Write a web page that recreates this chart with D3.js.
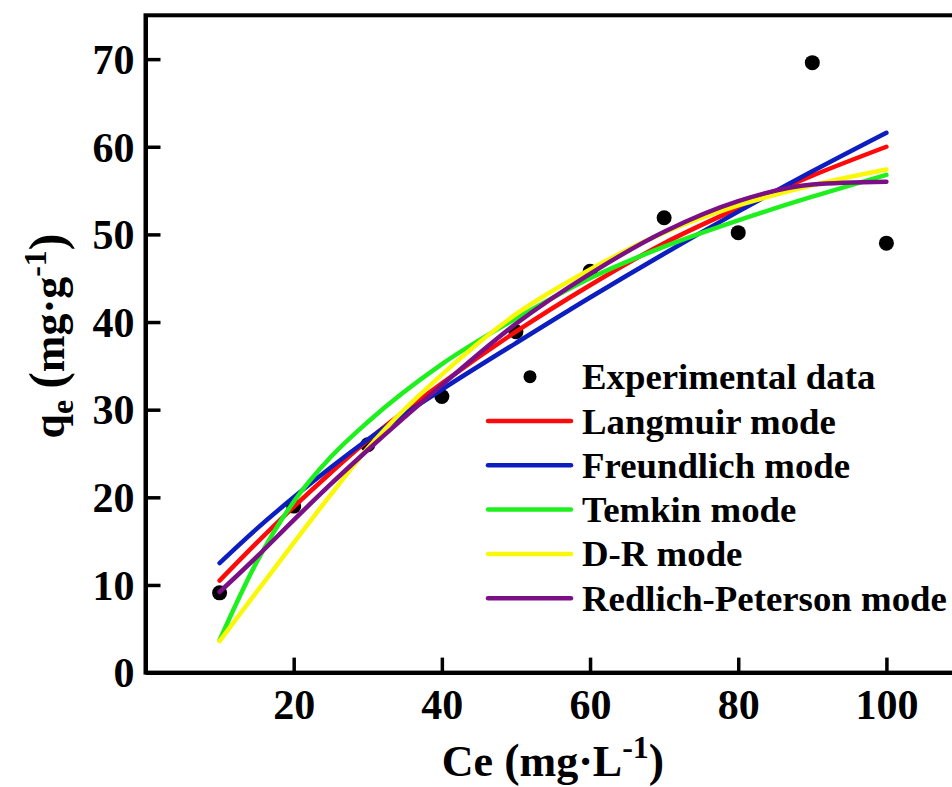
<!DOCTYPE html>
<html>
<head>
<meta charset="utf-8">
<script src="https://cdnjs.cloudflare.com/ajax/libs/d3/7.8.5/d3.min.js"></script>
<style>
  html, body { margin: 0; padding: 0; background: #fff; }
  svg { display: block; }
  text { font-family: "Liberation Serif", "Times New Roman", serif; font-weight: bold; fill: #000; }
</style>
</head>
<body>
<svg id="chart" width="952" height="787"></svg>
<script>
// ---- data ----
const expCe = [10, 20, 30, 40, 50, 60, 70, 80, 90, 100];
const expQe = [9.1, 19.0, 26.0, 31.5, 38.9, 45.8, 51.9, 50.2, 69.6, 49.0];

const fitCe = [10, 15, 20, 25, 30, 40, 50, 60, 70, 80, 90, 100];
const langmuir    = [10.5, 14.8, 18.9, 22.8, 26.5, 33.0, 38.9, 44.2, 49.0, 53.0, 56.7, 60.0];
const freundlich  = [12.5, 16.4, 20.0, 23.4, 26.6, 32.3, 37.6, 42.8, 47.8, 52.6, 57.2, 61.6];
const temkin      = [3.7, 12.6, 19.5, 24.6, 28.6, 35.2, 40.4, 45.0, 48.6, 51.6, 54.3, 56.8];
const dr          = [3.6, 9.2, 14.8, 20.3, 25.6, 34.0, 40.9, 46.0, 50.2, 53.3, 55.6, 57.4];
const redlich     = [9.2, 13.2, 17.4, 21.5, 25.4, 32.8, 39.8, 45.5, 50.3, 53.8, 55.7, 56.0];

const seriesNames  = ["Langmuir mode", "Freundlich mode", "Temkin mode", "D-R mode", "Redlich-Peterson mode"];
const seriesValues = [langmuir, freundlich, temkin, dr, redlich];
const seriesColors = ["#fe0a0a", "#0c1ec0", "#1ef01e", "#f8f808", "#7a0f86"];

const xTicks = [20, 40, 60, 80, 100];
const yTicks = [0, 10, 20, 30, 40, 50, 60, 70];

// ---- layout ----
const svg = d3.select("#chart");
const x = d3.scaleLinear().domain([0, 110]).range([145.5, 960.5]);
const y = d3.scaleLinear().domain([0, 75]).range([672.6, 15.3]);

// frame (top / right)
svg.append("rect")
  .attr("x", x(0)).attr("y", y(75))
  .attr("width", x(110) - x(0)).attr("height", y(0) - y(75))
  .attr("fill", "none").attr("stroke", "#000").attr("stroke-width", 4);

// axes
const xAxis = d3.axisBottom(x).tickValues(xTicks).tickSizeInner(-15).tickSizeOuter(0).tickPadding(17);
const yAxis = d3.axisLeft(y).tickValues(yTicks).tickSizeInner(-15).tickSizeOuter(0).tickPadding(11);

const gx = svg.append("g").attr("transform", `translate(0,${y(0)})`).call(xAxis);
const gy = svg.append("g").attr("transform", `translate(${x(0)},0)`).call(yAxis);

[gx, gy].forEach(g => {
  g.select(".domain").attr("stroke", "#000").attr("stroke-width", 4);
  g.selectAll(".tick line").attr("stroke", "#000").attr("stroke-width", 3.5);
  g.selectAll(".tick text").attr("font-size", 42).attr("font-family", "Liberation Serif, serif").attr("font-weight", "bold").attr("fill", "#000");
});
gy.selectAll(".tick text").attr("dy", "0.34em");

// data points
svg.append("g").selectAll("circle")
  .data(expCe.map((c, i) => [c, expQe[i]]))
  .join("circle")
  .attr("cx", d => x(d[0])).attr("cy", d => y(d[1])).attr("r", 7.5).attr("fill", "#000");

// fit curves
const line = d3.line().x(d => x(d[0])).y(d => y(d[1])).curve(d3.curveMonotoneX);
seriesValues.forEach((vals, i) => {
  svg.append("path")
    .datum(fitCe.map((c, j) => [c, vals[j]]))
    .attr("d", line)
    .attr("fill", "none")
    .attr("stroke", seriesColors[i])
    .attr("stroke-width", 4.5)
    .attr("stroke-linecap", "round");
});

// legend
const lg = svg.append("g");
const rowY0 = 376.7, rowStep = 44.3;
lg.append("circle").attr("cx", 530).attr("cy", rowY0).attr("r", 6.5).attr("fill", "#000");
lg.append("text").attr("x", 582).attr("y", rowY0 + 12.5).attr("font-size", 36.8).text("Experimental data");
seriesNames.forEach((name, i) => {
  const yy = rowY0 + rowStep * (i + 1);
  lg.append("line").attr("x1", 488).attr("x2", 571).attr("y1", yy).attr("y2", yy)
    .attr("stroke", seriesColors[i]).attr("stroke-width", 4.5).attr("stroke-linecap", "round");
  lg.append("text").attr("x", 582).attr("y", yy + 12.5).attr("font-size", 36.8).text(name);
});

// x title
const xt = svg.append("text").attr("x", 553).attr("y", 776).attr("text-anchor", "middle").attr("font-size", 44);
xt.append("tspan").text("Ce ");
xt.append("tspan").attr("font-size", 46).text("(");
xt.append("tspan").text("mg·L");
xt.append("tspan").attr("font-size", 32).attr("dy", -18).text("-1");
xt.append("tspan").attr("font-size", 46).attr("dy", 18).text(")");

// y title
const yt = svg.append("text").attr("transform", "translate(64,336) rotate(-90)").attr("text-anchor", "middle").attr("font-size", 44);
yt.append("tspan").text("q");
yt.append("tspan").attr("font-size", 32).attr("dy", 9).text("e");
yt.append("tspan").attr("dy", -9).text(" ");
yt.append("tspan").attr("font-size", 50).text("(");
yt.append("tspan").text("mg·g");
yt.append("tspan").attr("font-size", 32).attr("dy", -18).text("-1");
yt.append("tspan").attr("font-size", 50).attr("dy", 18).text(")");
</script>
</body>
</html>
